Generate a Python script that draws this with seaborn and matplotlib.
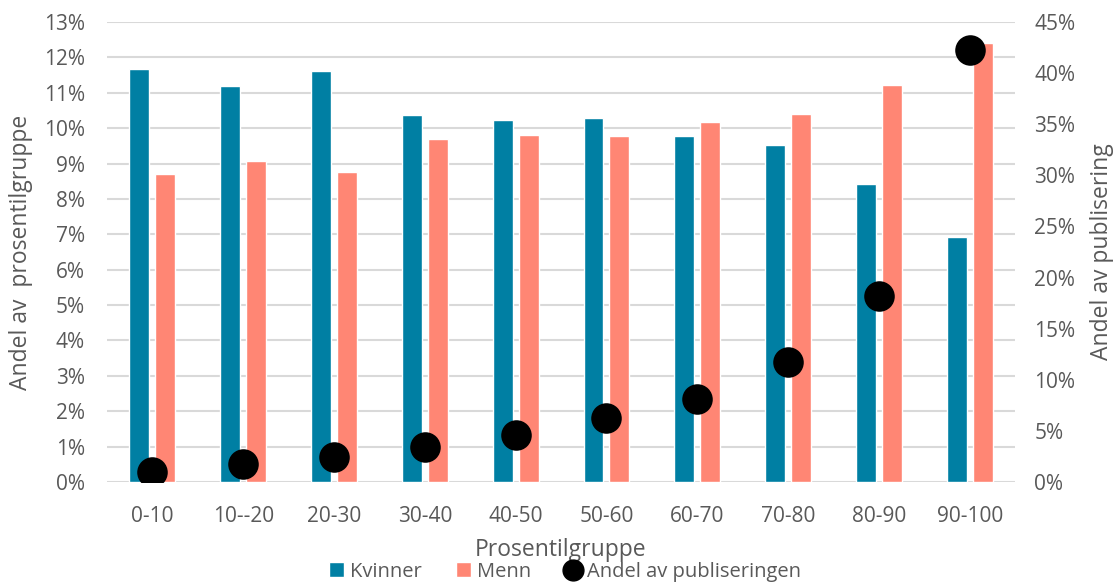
import pandas as pd
import seaborn as sns
import matplotlib.pyplot as plt
from matplotlib.patches import Patch
from matplotlib.lines import Line2D
from matplotlib.ticker import FuncFormatter

# Andel (%) av hver prosentilgruppe, og andel av publiseringen
groups = ['0-10', '10--20', '20-30', '30-40', '40-50', '50-60', '60-70', '70-80', '80-90', '90-100']
kvinner = [11.66, 11.18, 11.61, 10.37, 10.23, 10.29, 9.78, 9.51, 8.43, 6.92]
menn = [8.71, 9.08, 8.75, 9.69, 9.81, 9.78, 10.17, 10.39, 11.23, 12.40]
publisering = [1.0, 1.76, 2.48, 3.39, 4.63, 6.29, 8.15, 11.77, 18.2, 42.3]

blue = '#007FA3'
salmon = '#FF8674'
grey_text = '#595959'

df = pd.DataFrame({
    'Prosentilgruppe': groups * 2,
    'Andel': kvinner + menn,
    'Kjonn': ['Kvinner'] * len(groups) + ['Menn'] * len(groups),
})

sns.set_style('white')
plt.rcParams['font.family'] = ['Open Sans', 'DejaVu Sans']

fig = plt.figure(figsize=(11.19, 5.87), dpi=100)
ax = fig.add_axes([0.0956, 0.179, 0.8115, 0.7835])

sns.barplot(data=df, x='Prosentilgruppe', y='Andel', hue='Kjonn',
            palette=[blue, salmon], saturation=1, width=0.57, gap=0.23, ax=ax,
            legend=False, zorder=2)
ax.set_ylim(0, 13)
ax.set_xlim(-0.5, len(groups) - 0.5)
ax.set_yticks(range(0, 14))
ax.yaxis.set_major_formatter(FuncFormatter(lambda v, p: f'{v:.0f}%'))
ax.grid(axis='y', color='#d9d9d9', linewidth=1.5, zorder=0)
ax.set_axisbelow(True)
for s in ax.spines.values():
    s.set_visible(False)
ax.tick_params(axis='both', length=0, labelsize=15, colors=grey_text, pad=16)
ax.tick_params(axis='x', pad=17)
ax.set_xlabel('Prosentilgruppe', fontsize=16.5, color=grey_text, labelpad=8)
ax.set_ylabel('Andel av  prosentilgruppe', fontsize=16.5, color=grey_text, labelpad=8)

ax2 = ax.twinx()
pub_df = pd.DataFrame({'Prosentilgruppe': groups, 'Publisering': publisering})
sns.stripplot(data=pub_df, x='Prosentilgruppe', y='Publisering', jitter=False,
              color='black', size=22, ax=ax2, zorder=5)
ax2.set_ylim(0, 45)
ax2.set_xlim(-0.5, len(groups) - 0.5)
ax2.set_yticks(range(0, 50, 5))
ax2.yaxis.set_major_formatter(FuncFormatter(lambda v, p: f'{v:.0f}%'))
for s in ax2.spines.values():
    s.set_visible(False)
ax2.tick_params(axis='y', length=0, labelsize=15, colors=grey_text, pad=14)
ax2.set_ylabel('Andel av publisering', fontsize=16.5, color=grey_text, labelpad=10)
ax2.set_xlabel('')

handles = [
    Patch(facecolor=blue, label='Kvinner'),
    Patch(facecolor=salmon, label='Menn'),
    Line2D([], [], marker='o', linestyle='none', color='black', markersize=15,
           label='Andel av publiseringen'),
]
leg = fig.legend(handles=handles, loc='lower center', bbox_to_anchor=(0.505, -0.022),
                 ncol=3, frameon=False, fontsize=14.5, handlelength=0.75,
                 handleheight=0.75, handletextpad=0.3, columnspacing=1.7)
for t in leg.get_texts():
    t.set_color(grey_text)

fig.savefig('out.png', dpi=100)
